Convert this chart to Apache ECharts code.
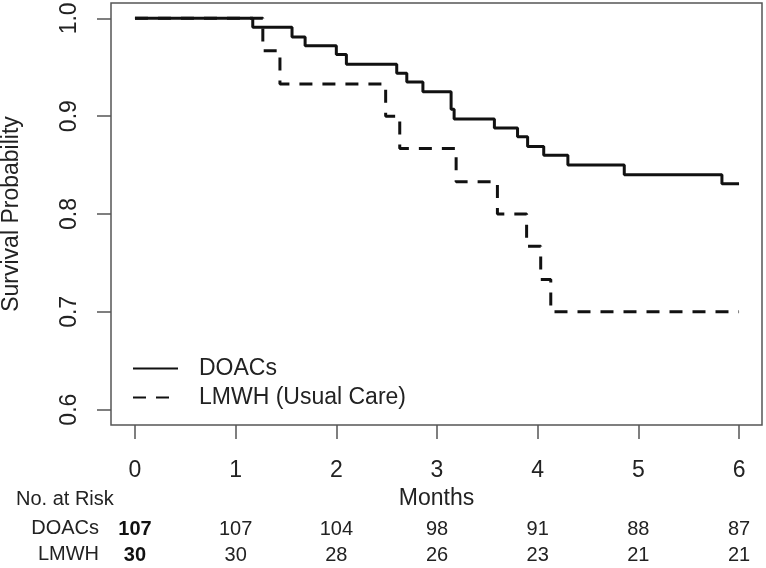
<!DOCTYPE html>
<html>
<head>
<meta charset="utf-8">
<script src="https://cdn.jsdelivr.net/npm/echarts@6/dist/echarts.min.js"></script>
<style>
  html, body { margin: 0; padding: 0; background: #fff; }
  #km-chart { width: 766px; height: 568px; }
</style>
</head>
<body>
<div id="km-chart"></div>
<script>
// Kaplan-Meier curves (time in months, survival after each event)
const months = [0, 1, 2, 3, 4, 5, 6];
const yTicks = [0.6, 0.7, 0.8, 0.9, 1.0];

const doacTimes = [0, 1.17, 1.56, 1.69, 2.0, 2.1, 2.6, 2.7, 2.86, 3.14, 3.17, 3.57, 3.8, 3.9, 4.06, 4.3, 4.86, 5.83, 6.0];
const doacSurv = [1, 0.991, 0.981, 0.972, 0.963, 0.953, 0.944, 0.935, 0.925, 0.907, 0.897, 0.888, 0.879, 0.869, 0.86, 0.85, 0.84, 0.831, 0.831];

const lmwhTimes = [0, 1.27, 1.44, 2.49, 2.63, 3.19, 3.6, 3.89, 4.03, 4.13, 6.0];
const lmwhSurv = [1, 0.967, 0.933, 0.9, 0.867, 0.833, 0.8, 0.767, 0.733, 0.7, 0.7];

// numbers at risk under each month tick
const doacRisk = [107, 107, 104, 98, 91, 88, 87];
const lmwhRisk = [30, 30, 28, 26, 23, 21, 21];

const FONT = "'Liberation Sans', Arial, sans-serif";
const INK = "#111";

const chart = echarts.init(document.getElementById("km-chart"), null, { renderer: "canvas" });

const riskAxis = (counts, margin) => ({
  type: "value",
  gridIndex: 0,
  position: "bottom",
  min: -0.238,
  max: 6.228,
  axisLine: { show: false, onZero: false },
  axisTick: { show: false },
  splitLine: { show: false },
  axisLabel: {
    customValues: months,
    margin: margin,
    fontFamily: FONT,
    fontSize: 20,
    color: "#222",
    formatter: (v) => {
      const i = months.indexOf(Math.round(v));
      if (i < 0) return "";
      return i === 0 ? "{b|" + counts[i] + "}" : String(counts[i]);
    },
    rich: { b: { fontWeight: "bold", fontSize: 20, fontFamily: FONT, color: "#111" } },
  },
});

const option = {
  animation: false,
  backgroundColor: "#fff",
  grid: {
    left: 111,
    right: 4,
    top: 3,
    bottom: 143,
    outerBoundsMode: "none",
    containLabel: false,
    show: true,
    borderColor: "#555",
    borderWidth: 1.5,
    backgroundColor: "transparent",
  },
  legend: {
    orient: "vertical",
    left: 132,
    top: 354,
    padding: 0,
    itemWidth: 45,
    itemHeight: 14,
    itemGap: 0,
    itemStyle: { opacity: 0 },
    textStyle: {
      fontFamily: FONT,
      fontSize: 23,
      color: "#222",
      lineHeight: 29,
      padding: [0, 0, 0, 16],
    },
    data: ["DOACs", "LMWH (Usual Care)"],
  },
  xAxis: [
    {
      type: "value",
      min: -0.238,
      max: 6.228,
      name: "Months",
      nameLocation: "middle",
      nameGap: 61,
      nameTextStyle: { fontFamily: FONT, fontSize: 23, color: "#222" },
      axisLine: { show: false, onZero: false },
      axisTick: { show: true, customValues: months, length: 14, lineStyle: { color: "#555", width: 1.5 } },
      splitLine: { show: false },
      axisLabel: {
        customValues: months,
        margin: 34,
        fontFamily: FONT,
        fontSize: 23,
        color: "#222",
        formatter: (v) => String(Math.round(v)),
      },
    },
    riskAxis(doacRisk, 94),
    riskAxis(lmwhRisk, 120),
  ],
  yAxis: {
    type: "value",
    min: 0.5843,
    max: 1.0157,
    name: "Survival Probability",
    nameLocation: "middle",
    nameGap: 88,
    nameTextStyle: { fontFamily: FONT, fontSize: 23, color: "#222" },
    axisLine: { show: false, onZero: false },
    axisTick: { show: true, customValues: yTicks, length: 14, lineStyle: { color: "#555", width: 1.5 } },
    splitLine: { show: false },
    axisLabel: {
      customValues: yTicks,
      rotate: 90,
      margin: 30,
      fontFamily: FONT,
      fontSize: 23,
      color: "#222",
      formatter: (v) => v.toFixed(1),
    },
  },
  graphic: [
    {
      type: "text",
      left: 16,
      top: 489,
      style: { text: "No. at Risk", fontFamily: FONT, fontSize: 20, fill: "#222" },
    },
    {
      type: "text",
      right: 766 - 99,
      top: 518,
      style: { text: "DOACs", fontFamily: FONT, fontSize: 20, fill: "#222" },
    },
    {
      type: "text",
      right: 766 - 99,
      top: 544,
      style: { text: "LMWH", fontFamily: FONT, fontSize: 20, fill: "#222" },
    },
  ],
  series: [
    {
      name: "DOACs",
      type: "line",
      step: "end",
      symbol: "none",
      xAxisIndex: 0,
      data: doacTimes.map((t, i) => [t, doacSurv[i]]),
      lineStyle: { color: INK, width: 3, type: "solid" },
      itemStyle: { color: INK },
    },
    {
      name: "LMWH (Usual Care)",
      type: "line",
      step: "end",
      symbol: "none",
      xAxisIndex: 0,
      data: lmwhTimes.map((t, i) => [t, lmwhSurv[i]]),
      lineStyle: { color: INK, width: 3, type: [13, 10] },
      itemStyle: { color: INK },
    },
  ],
};

chart.setOption(option);
</script>
</body>
</html>
